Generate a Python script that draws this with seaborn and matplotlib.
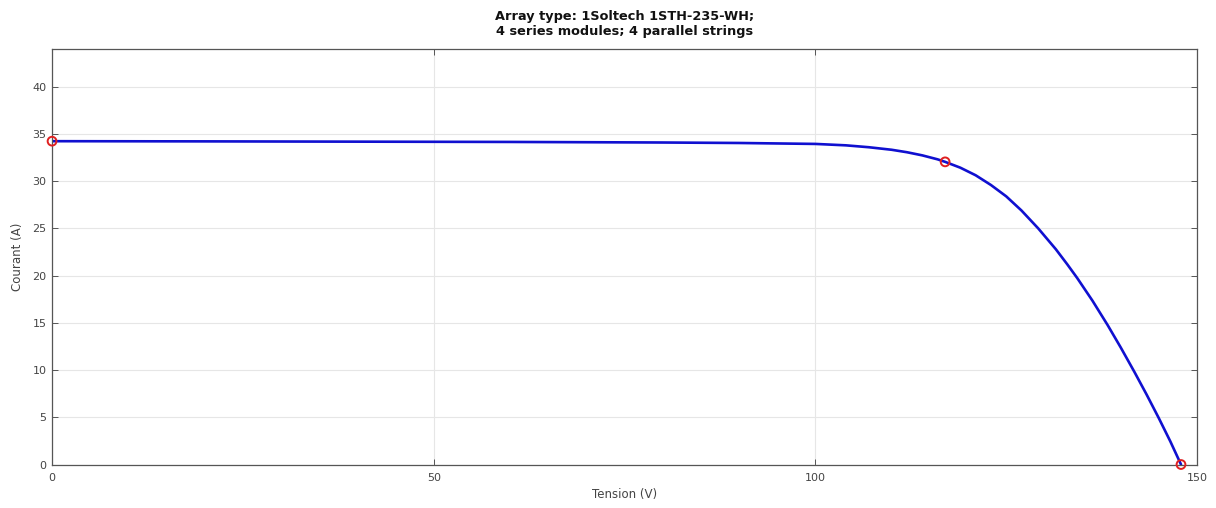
import matplotlib
matplotlib.use("Agg")
import matplotlib.pyplot as plt
import seaborn as sns
import pandas as pd

# I-V curve
tension = [0, 20, 40, 60, 80, 90, 95, 100, 104, 107, 110, 112, 114, 116, 117,
           119, 121, 123, 125, 127, 129.2, 131.5, 133, 134.3, 136.3, 138.3, 140,
           141.8, 143.4, 145, 146.5, 147.9]
courant = [34.24, 34.22, 34.19, 34.16, 34.10, 34.05, 34.0, 33.95, 33.8, 33.6,
           33.33, 33.07, 32.74, 32.32, 32.05, 31.43, 30.63, 29.6, 28.4, 26.9,
           25.0, 22.8, 21.2, 19.75, 17.35, 14.75, 12.4, 9.8, 7.4, 4.9, 2.45, 0.0]

# remarkable points: Isc, MPP, Voc
pts_v = [0, 117.0, 147.9]
pts_i = [34.24, 32.05, 0.0]

x_ticks = [0, 50, 100, 150]
y_ticks = [0, 5, 10, 15, 20, 25, 30, 35, 40]

title = "Array type: 1Soltech 1STH-235-WH;\n4 series modules; 4 parallel strings"

sns.set_theme(style="whitegrid")
plt.rcParams['font.family'] = ['DejaVu Sans']

fig = plt.figure(figsize=(12.16, 5.08), dpi=100)
ax = fig.add_axes([0.0428, 0.0856, 0.9416, 0.8179])

df = pd.DataFrame({"Tension (V)": tension, "Courant (A)": courant})
sns.lineplot(data=df, x="Tension (V)", y="Courant (A)", ax=ax, color="#1010d0",
             linewidth=1.9, estimator=None, sort=False)
pdf = pd.DataFrame({"v": pts_v, "i": pts_i})
sns.scatterplot(data=pdf, x="v", y="i", ax=ax, marker="o", s=40,
                facecolor="none", edgecolor="#e02020", linewidth=1.4,
                clip_on=False, zorder=5)

ax.set_xlim(0, 150)
ax.set_ylim(0, 44)
ax.set_xticks(x_ticks)
ax.set_yticks(y_ticks)
ax.set_xlabel("Tension (V)", fontsize=8.5, color="#444444", labelpad=4)
ax.set_ylabel("Courant (A)", fontsize=8.5, color="#444444", labelpad=6)
ax.set_title(title, fontsize=9.3, fontweight="bold", color="#111111", pad=10,
             linespacing=1.25)

ax.grid(True, color="#e6e6e6", linewidth=0.8)
for s in ax.spines.values():
    s.set_visible(True)
    s.set_color("#555555")
    s.set_linewidth(0.9)
ax.tick_params(axis="both", direction="in", length=4, width=0.7,
               colors="#555555", labelsize=8, labelcolor="#444444",
               top=True, right=True, bottom=True, left=True, pad=4)
ax.tick_params(axis="x", pad=6)
ax.set_facecolor("white")
fig.patch.set_facecolor("white")

fig.savefig("out.png", dpi=100, facecolor="white")
